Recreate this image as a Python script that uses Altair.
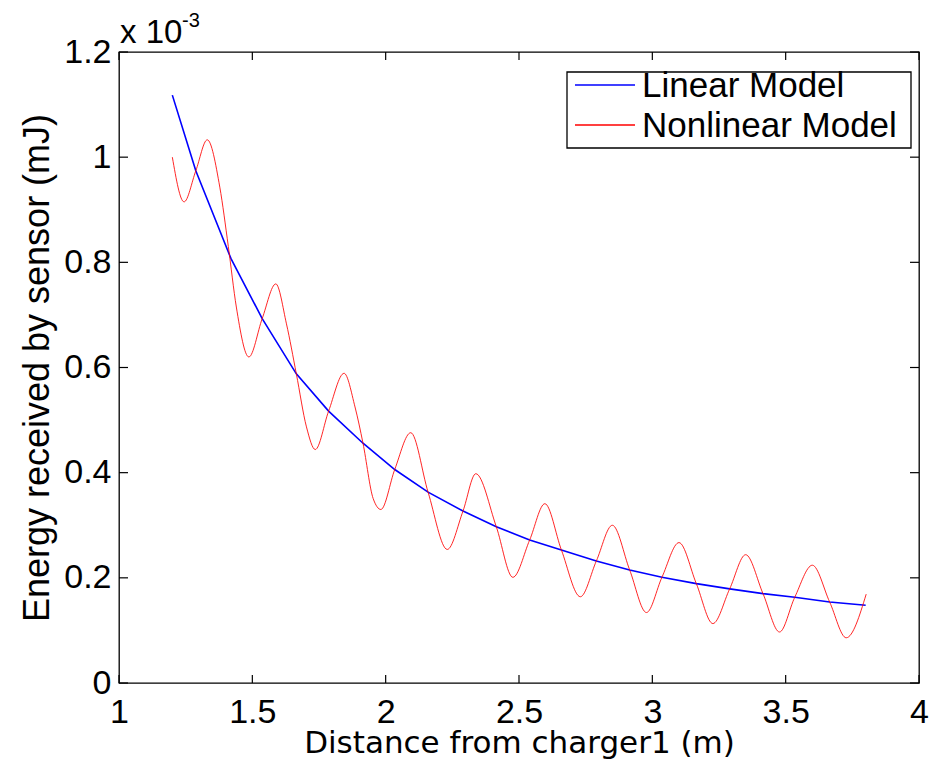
import altair as alt
import pandas as pd

# ---- data (energy in units of 1e-3 mJ) ----
lin_x = [1.200, 1.288, 1.420, 1.537, 1.665, 1.786, 1.915, 2.034, 2.159, 2.290, 2.415,
         2.540, 2.659, 2.790, 2.915, 3.036, 3.165, 3.290, 3.415, 3.534, 3.665, 3.800]
lin_y = [1.118, 0.974, 0.807, 0.693, 0.588, 0.517, 0.456, 0.406, 0.363, 0.327, 0.297,
         0.272, 0.253, 0.232, 0.215, 0.201, 0.189, 0.179, 0.170, 0.163, 0.154, 0.148]

nl_x = [1.200, 1.244, 1.288, 1.331, 1.378, 1.410, 1.440, 1.487, 1.537, 1.588, 1.628,
        1.665, 1.703, 1.736, 1.786, 1.844, 1.885, 1.915, 1.953, 1.982, 2.034, 2.094,
        2.159, 2.231, 2.290, 2.338, 2.415, 2.477, 2.540, 2.597, 2.659, 2.730, 2.790,
        2.850, 2.915, 2.978, 3.036, 3.100, 3.165, 3.227, 3.290, 3.350, 3.415, 3.477,
        3.534, 3.600, 3.665, 3.727, 3.802]
nl_y = [1.000, 0.915, 0.974, 1.033, 0.943, 0.830, 0.715, 0.620, 0.693, 0.759, 0.683,
        0.588, 0.487, 0.444, 0.517, 0.589, 0.525, 0.456, 0.351, 0.330, 0.406, 0.476,
        0.363, 0.254, 0.327, 0.398, 0.297, 0.201, 0.272, 0.341, 0.253, 0.164, 0.232,
        0.300, 0.215, 0.134, 0.201, 0.267, 0.189, 0.113, 0.179, 0.244, 0.170, 0.097,
        0.163, 0.224, 0.154, 0.086, 0.169]

x_ticks = [1, 1.5, 2, 2.5, 3, 3.5, 4]
y_ticks = [0, 0.2, 0.4, 0.6, 0.8, 1.0, 1.2]
series = ["Linear Model", "Nonlinear Model"]
colors = ["#0000ff", "#ff0000"]

x_title = "Distance from charger1 (m)"
y_title = "Energy received by sensor (mJ)"
mult_main = "x 10"
mult_exp = "-3"

FONT = "Liberation Sans"
W, H = 800, 631

df_lin = pd.DataFrame({"x": lin_x, "y": lin_y})
df_nl = pd.DataFrame({"x": nl_x, "y": nl_y})
df_xt = pd.DataFrame({"x": x_ticks})
df_yt = pd.DataFrame({"y": y_ticks})

xs = alt.Scale(domain=[1, 4], nice=False, zero=False)
ys = alt.Scale(domain=[0, 1.2], nice=False, zero=False)

x_axis = alt.Axis(values=x_ticks, format="~g", ticks=False, tickSize=0, domain=False, grid=False,
                  labelFontSize=34, labelFont=FONT, labelColor="black", labelPadding=39,
                  labelBaseline="alphabetic", labelFlush=False, labelOverlap=False,
                  title=x_title, titleFont="DejaVu Sans", titleFontSize=31,
                  titleFontWeight="normal", titleColor="black", titleY=69,
                  titleBaseline="alphabetic")
y_axis = alt.Axis(values=y_ticks, format=".1~f", ticks=False, tickSize=0, domain=False, grid=False,
                  labelFontSize=34, labelFont=FONT, labelColor="black", labelPadding=8,
                  labelBaseline="middle", labelFlush=False, labelOverlap=False,
                  title=y_title, titleFont=FONT, titleFontSize=36, titleFontWeight="normal",
                  titleColor="black", titleX=-71, titleY=315.5, titleAngle=270,
                  titleAlign="center", titleBaseline="alphabetic")

X = alt.X("x:Q", scale=xs, axis=x_axis)
Y = alt.Y("y:Q", scale=ys, axis=y_axis)

lin = alt.Chart(df_lin).mark_line(color=colors[0], strokeWidth=1.6).encode(x=X, y=Y)
nl = alt.Chart(df_nl).mark_line(color=colors[1], strokeWidth=1.0, opacity=0.85,
                                interpolate="monotone").encode(x=X, y=Y)

tick_style = dict(color="black", strokeWidth=1.2)
bt = alt.Chart(df_xt).mark_rule(**tick_style).encode(x=X, y=alt.value(H), y2=alt.value(H - 8))
tt = alt.Chart(df_xt).mark_rule(**tick_style).encode(x=X, y=alt.value(0), y2=alt.value(8))
lt = alt.Chart(df_yt).mark_rule(**tick_style).encode(y=Y, x=alt.value(0), x2=alt.value(9))
rt = alt.Chart(df_yt).mark_rule(**tick_style).encode(y=Y, x=alt.value(W), x2=alt.value(W - 9))

one = pd.DataFrame({"a": [0]})
box = alt.Chart(one).mark_rect(fill="white", stroke="black", strokeWidth=1.3).encode(
    x=alt.value(448), x2=alt.value(792), y=alt.value(20), y2=alt.value(96))

legend_layers = []
for i, (name, col) in enumerate(zip(series, colors)):
    dfl = pd.DataFrame({"label": [name]})
    legend_layers.append(
        alt.Chart(dfl).mark_rule(color=col, strokeWidth=1.4).encode(
            x=alt.value(456), x2=alt.value(516), y=alt.value(33 + 40 * i)))
    legend_layers.append(
        alt.Chart(dfl).mark_text(align="left", baseline="alphabetic", font=FONT,
                                 fontSize=35, color="black").encode(
            x=alt.value(523), y=alt.value(45 + 40 * i), text="label:N"))

mult1 = alt.Chart(pd.DataFrame({"t": [mult_main]})).mark_text(
    align="left", baseline="alphabetic", font=FONT, fontSize=33, color="black").encode(
    x=alt.value(1), y=alt.value(-9), text="t:N")
mult2 = alt.Chart(pd.DataFrame({"t": [mult_exp]})).mark_text(
    align="left", baseline="alphabetic", font=FONT, fontSize=20, color="black").encode(
    x=alt.value(63), y=alt.value(-25), text="t:N")

chart = alt.layer(lin, nl, bt, tt, lt, rt, box, *legend_layers, mult1, mult2).properties(
    width=W, height=H,
    autosize=alt.AutoSizeParams(type="none"),
    padding={"left": 111, "top": 44, "right": 15, "bottom": 76},
    background="white",
).configure_view(stroke="black", strokeWidth=1.3).configure_axis(grid=False)

chart.save("out.html", embed_options={"renderer": "svg", "actions": False})
